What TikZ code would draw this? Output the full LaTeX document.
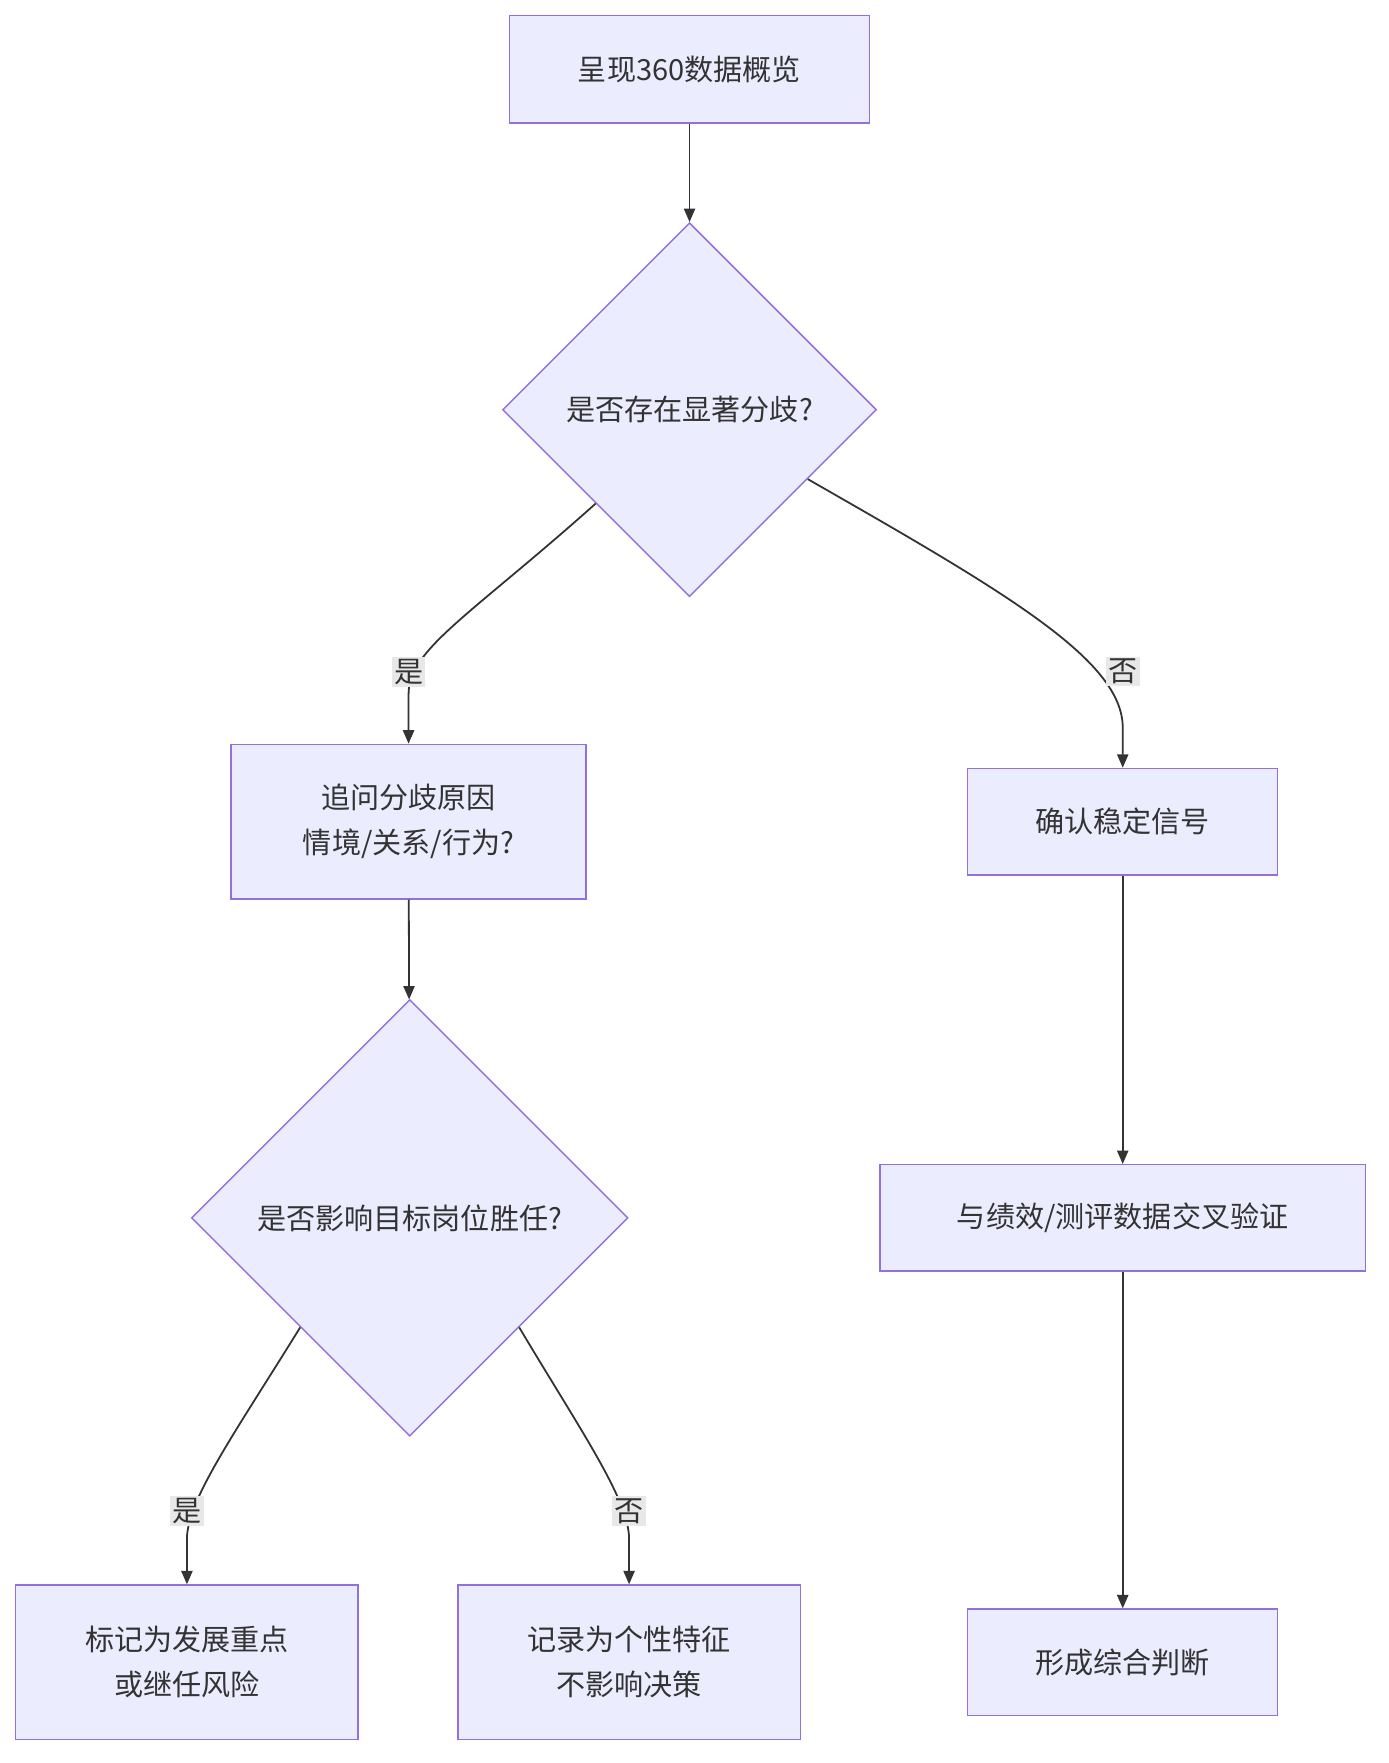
\documentclass[tikz,border=0pt]{standalone}
\usepackage{fontspec}
\setmainfont{Noto Sans CJK SC}
\usetikzlibrary{shapes.geometric,arrows.meta,calc}
\definecolor{nfill}{HTML}{ECECFF}
\definecolor{nline}{HTML}{9370DB}
\definecolor{eline}{HTML}{333333}
\definecolor{lbg}{HTML}{E8E8E8}
\begin{document}
\begin{tikzpicture}[x=1pt,y=-1pt,
  box/.style={draw=nline,fill=nfill,line width=1.3pt,inner sep=0,align=center,font=\fontsize{26}{40}\selectfont,text=eline},
  dia/.style={draw=nline,fill=nfill,line width=1.3pt,diamond,aspect=1,inner sep=0,align=center,font=\fontsize{26}{40}\selectfont,text=eline},
  conn/.style={draw=eline,line width=1.6pt,-{Triangle[length=12pt,width=10pt]}},
  lab/.style={fill=lbg,inner sep=2pt,font=\fontsize{26}{30}\selectfont,text=eline}]
\useasboundingbox (0,0) rectangle (1240,1575);
\node[box,minimum width=322,minimum height=96] (A) at (616,62) {呈现360数据概览};
\node[dia,minimum width=334,minimum height=334] (D1) at (616,366) {是否存在显著分歧?};
\node[box,minimum width=317,minimum height=138] (B) at (365,734) {追问分歧原因\\情境/关系/行为?};
\node[box,minimum width=277,minimum height=95] (C) at (1003,734) {确认稳定信号};
\node[dia,minimum width=390,minimum height=390] (D2) at (366,1088) {是否影响目标岗位胜任?};
\node[box,minimum width=434,minimum height=95] (E) at (1003,1088) {与绩效/测评数据交叉验证};
\node[box,minimum width=306,minimum height=138] (F) at (167,1485) {标记为发展重点\\或继任风险};
\node[box,minimum width=306,minimum height=138] (G) at (562,1485) {记录为个性特征\\不影响决策};
\node[box,minimum width=277,minimum height=95] (H) at (1003,1485) {形成综合判断};
\coordinate (s1) at (D1.south west);
\coordinate (s2) at ($(D1.east)!0.37!(D1.south)$);
\coordinate (s3) at (D2.south west);
\coordinate (s4) at (D2.south east);
\draw[conn] (A) -- (D1);
\draw[conn] (s1) .. controls (420,550) and (365,580) .. (365,620) -- (B.north);
\draw[conn] (s2) .. controls (900,530) and (1003,590) .. (1003,650) -- (C.north);
\draw[conn] (B) -- (D2);
\draw[conn] (C) -- (E);
\draw[conn] (E) -- (H);
\draw[conn] (s3) .. controls (210,1280) and (167,1340) .. (167,1375) -- (F.north);
\draw[conn] (s4) .. controls (520,1280) and (562,1340) .. (562,1375) -- (G.north);
\node[lab] (l1) at (365,600) {是};
\node[lab] (l2) at (1003,600) {否};
\node[lab] (l3) at (167,1350) {是};
\node[lab] (l4) at (562,1350) {否};
\end{tikzpicture}
\end{document}
